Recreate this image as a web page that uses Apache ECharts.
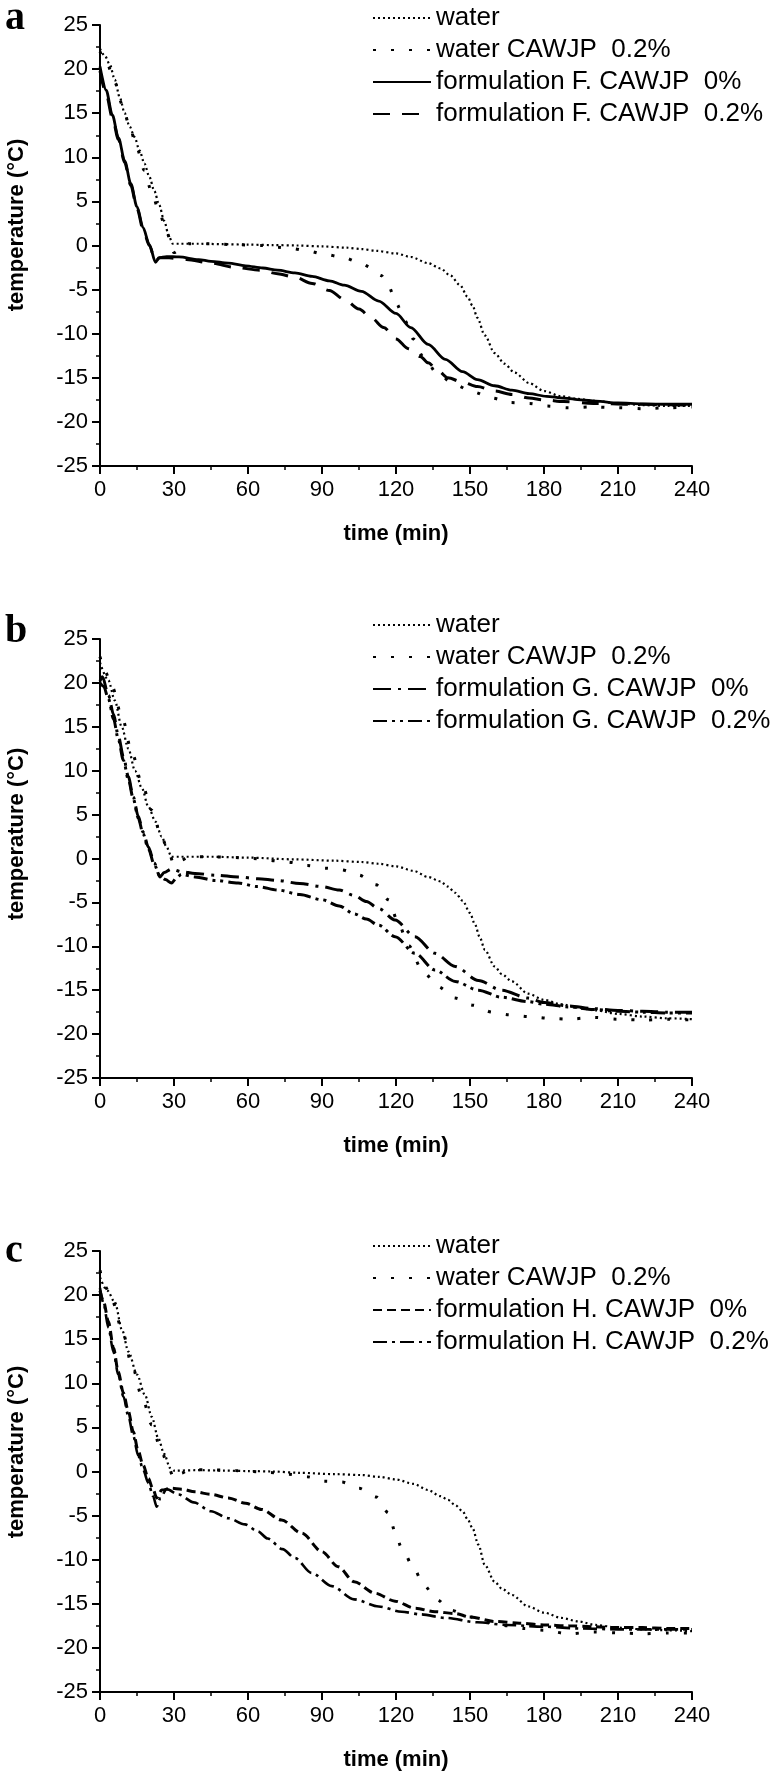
<!DOCTYPE html>
<html><head><meta charset="utf-8">
<script src="https://cdn.jsdelivr.net/npm/echarts@6/dist/echarts.min.js"></script>
<style>html,body{margin:0;padding:0;background:#fff}#c{width:774px;height:1772px}</style>
</head><body><div id="c"></div>
<script>
// ---------- data: [time (min), temperature (°C)] ----------
const xTicks = [0, 30, 60, 90, 120, 150, 180, 210, 240];
const yTicks = [-25, -20, -15, -10, -5, 0, 5, 10, 15, 20, 25];

// panel a
const waterA = [[0,22.3],[2,21.5],[4,20.5],[6,18.8],[8,16.8],[10,15],[12,13.5],[14,12.3],[16,10.8],[18,9.3],[20,7.8],[22,6.2],[24,4.6],[26,2.8],[28,1.0],[29.5,0.2],[32,0.2],[40,0.2],[50,0.15],[60,0.1],[70,0.05],[80,0],[90,-0.1],[100,-0.25],[106,-0.4],[112,-0.6],[120,-0.9],[126,-1.3],[133,-2.0],[138,-2.6],[142,-3.4],[146,-4.5],[149,-5.8],[151,-6.8],[153,-8.2],[156,-10.2],[160,-12.2],[164,-13.4],[168,-14.4],[174,-15.6],[180,-16.5],[187,-17.1],[194,-17.4],[200,-17.6],[210,-17.9],[220,-18.1],[230,-18.2],[240,-18.2]];
const waterCawjpA = [[0,22],[3,20.5],[6,18.5],[9,16],[12,13.5],[15,11],[18,8.5],[21,6],[24,3.8],[27,1.5],[30,-0.8],[33,-0.3],[36,0.2],[45,0.2],[55,0.1],[65,0],[72,-0.2],[78,-0.35],[84,-0.6],[91,-1.0],[98,-1.3],[105,-1.9],[110,-2.5],[114,-3.4],[117,-4.6],[120,-6.5],[123.5,-8.5],[127,-10.6],[131,-12.6],[137,-14.6],[144,-15.8],[151,-16.6],[159,-17.3],[166,-17.8],[174,-17.9],[181,-18.2],[190,-18.4],[200,-18.3],[210,-18.4],[220,-18.5],[230,-18.4],[240,-18.3]];
const formF0 = [[0,20.3],[2.5,17.6],[5,14.8],[7.5,12.2],[10,9.6],[12.5,7],[15,4.4],[17.5,2],[20,0.1],[22.5,-1.9],[24,-1.4],[27,-1.25],[32,-1.3],[40,-1.6],[45,-1.8],[52,-2.0],[59,-2.3],[66,-2.55],[72,-2.8],[79,-3.1],[86,-3.5],[93,-4.0],[99,-4.5],[106,-5.2],[113,-6.3],[120,-7.7],[126,-9.3],[133,-11.2],[140,-12.9],[147,-14.3],[153,-15.2],[160,-15.9],[167,-16.4],[174,-16.8],[181,-17.1],[188,-17.3],[195,-17.5],[201,-17.65],[210,-17.85],[220,-17.95],[230,-18.0],[240,-18.0]];
const formF02 = [[0,19.8],[2.5,17.2],[5,14.5],[7.5,12],[10,9.4],[12.5,6.8],[15,4.2],[17.5,1.8],[20,0],[22.5,-1.8],[24,-1.4],[28,-1.4],[35,-1.6],[45,-2.0],[55,-2.5],[65,-2.8],[72,-3.2],[79,-3.6],[86,-4.3],[93,-5.1],[99,-6.1],[105,-7.2],[110,-8.2],[115,-9.3],[120,-10.6],[125,-11.7],[130,-12.6],[133,-13.3],[137,-14.2],[141,-15.0],[147,-15.5],[153,-16.0],[160,-16.5],[167,-16.9],[174,-17.3],[180,-17.5],[188,-17.7],[200,-17.9],[215,-18.0],[240,-18.1]];

// panel b
const waterB = [[0,22.3],[3.4,20.3],[6,18],[8.8,15],[11.5,12.5],[14.2,10],[17,8],[19.6,5.9],[22.5,4.2],[25,2.5],[27,1.3],[29,0.2],[32,0.2],[45,0.2],[60,0.1],[79,-0.1],[95,-0.25],[106,-0.4],[113,-0.6],[120,-0.9],[127,-1.4],[133,-2.1],[138,-2.6],[141,-3.2],[144,-3.9],[147,-4.8],[150,-6.2],[152,-7.5],[154,-9],[156,-10.4],[160,-12.3],[163,-13.2],[167,-14],[173.6,-15.4],[180,-16.1],[187,-16.6],[194,-17.0],[201,-17.3],[210,-17.7],[220,-18.0],[230,-18.2],[240,-18.3]];
const waterCawjpB = [[0,23.0],[2,21.3],[5,19.5],[9,16],[13,12],[17,8.5],[21,5.5],[25,2.4],[28,0.6],[30,-0.7],[33,-0.2],[36,0.2],[45,0.2],[55,0.1],[62,0],[68,-0.2],[76,-0.4],[84,-0.8],[91,-1.1],[98,-1.3],[105,-1.9],[112,-3.0],[117,-4.7],[121,-7.4],[125,-9.9],[131,-12.9],[137,-14.6],[144,-15.9],[151,-16.7],[159,-17.5],[166,-17.8],[174,-18.0],[182,-18.2],[190,-18.3],[200,-18.1],[210,-18.3],[220,-18.4],[230,-18.3],[240,-18.4]];
const formG0 = [[0,20.2],[1,20.7],[3.4,18.6],[5.5,16.4],[7.4,14],[9.5,11.6],[11.5,9.3],[13.5,7],[15.5,4.8],[17.5,3],[19.6,1.3],[22,-0.5],[24.3,-2.1],[26,-1.6],[29,-1.2],[33,-1.5],[38.5,-1.7],[47,-1.9],[56,-2.1],[64,-2.3],[72,-2.5],[81,-2.85],[90,-3.2],[97,-3.6],[103,-4.2],[108,-4.9],[113,-5.7],[119.6,-7.0],[127.7,-8.9],[135.8,-10.8],[144,-12.3],[153.4,-13.9],[162.8,-15.0],[173.6,-15.9],[180,-16.4],[190,-16.8],[200,-17.1],[210,-17.3],[220,-17.4],[230,-17.5],[240,-17.5]];
const formG02 = [[0,20.0],[1.5,19.6],[3.4,18.2],[5.5,15.9],[7.4,13.6],[9.5,11.2],[11.5,9.0],[13.5,6.8],[15.5,4.6],[17.5,2.8],[19.6,1.1],[22,-0.7],[24.3,-2.0],[26.5,-2.4],[29,-2.8],[31,-2.2],[33,-1.8],[38.5,-2.1],[47,-2.5],[56,-2.8],[64,-3.2],[72.3,-3.6],[81,-4.1],[90,-4.7],[97,-5.4],[103,-6.3],[108,-6.9],[113,-7.6],[119.6,-8.9],[127.7,-10.8],[135.8,-12.7],[144,-14.0],[153.4,-15.0],[162.8,-15.8],[173.6,-16.3],[180,-16.6],[190,-16.9],[200,-17.2],[210,-17.4],[220,-17.5],[230,-17.6],[240,-17.6]];

// panel c
const waterC = [[0,22],[3,20.5],[6,19.2],[9,16],[11.5,13.6],[15,11],[18.2,8.7],[21,6.2],[23.6,3.8],[26,2],[28.4,0.4],[30,0.1],[40,0.15],[50,0.1],[60,0.05],[70,0],[81,-0.15],[95,-0.3],[106,-0.4],[113,-0.6],[120,-0.9],[127,-1.4],[133,-2.1],[138,-2.8],[141,-3.2],[144,-3.8],[147,-4.5],[149,-5.4],[151,-6.4],[153.4,-8.3],[156,-10.6],[160,-12.5],[163,-13.3],[167,-14],[173.6,-15.3],[180,-16],[187,-16.6],[194,-17.0],[201,-17.4],[210,-17.7],[220,-17.9],[230,-18.0],[240,-18.1]];
const waterCawjpC = [[0,22.8],[2,21],[5,19.3],[9,16],[13,12],[17,8.5],[21,5.3],[25,2.2],[28,0.3],[30,-0.8],[33,-0.2],[36,0.2],[45,0.2],[55,0.1],[68,-0.1],[76,-0.3],[84,-0.6],[91,-1.1],[98,-1.2],[105,-1.9],[112,-2.9],[117,-4.7],[119.6,-6.8],[122.3,-8.7],[127,-10.8],[131,-12.8],[136.5,-14.5],[142,-15.7],[150,-16.5],[158,-17.1],[165,-17.5],[172,-17.8],[180,-18],[190,-18.4],[200,-18.2],[210,-18.3],[220,-18.4],[230,-18.3],[240,-18.3]];
const formH0 = [[0,20.5],[1.5,19.2],[3.4,17],[5.5,14],[7.4,11.3],[9.5,8.9],[11.5,6.8],[13.5,4.5],[15.5,2.3],[17.5,0.7],[19.6,-0.8],[21.5,-2],[23,-3.0],[25,-2.1],[29,-1.9],[33,-2.0],[38.5,-2.3],[45,-2.6],[52,-3.0],[59,-3.6],[65.5,-4.3],[73.6,-5.5],[81.8,-7.0],[90,-9.1],[96.6,-10.8],[103,-12.5],[111.5,-13.8],[119.6,-14.7],[127.7,-15.5],[135.8,-15.9],[144,-16.1],[150,-16.5],[160,-17.0],[170,-17.2],[180,-17.4],[190,-17.5],[200,-17.6],[210,-17.7],[220,-17.7],[230,-17.8],[240,-17.8]];
const formH02 = [[0,20.8],[1.5,19],[3.4,16.3],[5.5,13.5],[7.4,11],[9.5,8.5],[11.5,6.3],[13.5,4.0],[15.5,1.8],[17.5,0.2],[19.6,-1.3],[21.5,-2.8],[23,-4.0],[24.5,-3.0],[27,-2.0],[31.8,-2.6],[38,-3.5],[45,-4.5],[52,-5.3],[58.8,-6.0],[64,-6.8],[68,-7.6],[74,-8.8],[79,-9.8],[85.8,-11.5],[94,-13.0],[103,-14.5],[113,-15.3],[122.3,-15.9],[130,-16.2],[140,-16.6],[153,-17.1],[165,-17.4],[180,-17.6],[195,-17.8],[210,-17.9],[225,-17.9],[240,-17.9]];

const namesA = ['water', 'water CAWJP  0.2%', 'formulation F. CAWJP  0%', 'formulation F. CAWJP  0.2%'];
const namesB = ['water', 'water CAWJP  0.2%', 'formulation G. CAWJP  0%', 'formulation G. CAWJP  0.2%'];
const namesC = ['water', 'water CAWJP  0.2%', 'formulation H. CAWJP  0%', 'formulation H. CAWJP  0.2%'];
const panelLetters = ['a', 'b', 'c'];
const xTitle = 'time (min)';
const yTitle = 'temperature (°C)';

// ---------- styles / layout ----------
const FONT = "'Liberation Sans', Arial, sans-serif";
const sWater = {type: [2, 3], width: 2.2};
const sWaterC = {type: [3, 15], width: 3};
const styles = {
  F0: {type: 'solid', width: 2.8},
  F02: {type: [17, 12], width: 3},
  G0: {type: [18, 7, 3, 7], width: 3},
  G02: {type: [14, 5, 3, 5, 3, 5], width: 3},
  H0: {type: [9, 5], width: 3},
  H02: {type: [14, 5, 3, 5], width: 2.6}
};
const panels = [
  {top: 25, height: 441, legendTop: 0, letterY: 13, yTitleY: 225, names: namesA,
   data: [waterA, waterCawjpA, formF0, formF02], st: [sWater, sWaterC, styles.F0, styles.F02]},
  {top: 639, height: 439, legendTop: 607, letterY: 626, yTitleY: 834, names: namesB,
   data: [waterB, waterCawjpB, formG0, formG02], st: [sWater, sWaterC, styles.G0, styles.G02]},
  {top: 1251, height: 441, legendTop: 1228, letterY: 1246, yTitleY: 1452, names: namesC,
   data: [waterC, waterCawjpC, formH0, formH02], st: [sWater, sWaterC, styles.H0, styles.H02]}
];

const grid = [], xAxis = [], yAxis = [], series = [], legend = [], graphic = [];
panels.forEach((p, i) => {
  grid.push({left: 100, top: p.top, width: 592, height: p.height});
  xAxis.push({
    gridIndex: i, type: 'value', min: xTicks[0], max: xTicks[xTicks.length - 1], interval: 30,
    axisLine: {onZero: false, lineStyle: {color: '#000', width: 2}},
    axisTick: {length: 8, lineStyle: {color: '#000', width: 2}},
    minorTick: {show: true, splitNumber: 2, length: 4, lineStyle: {color: '#000', width: 1.5}},
    splitLine: {show: false},
    axisLabel: {color: '#000', fontFamily: FONT, fontSize: 22, margin: 13},
    name: xTitle, nameLocation: 'middle', nameGap: 57,
    nameTextStyle: {fontFamily: FONT, fontWeight: 'bold', fontSize: 22, color: '#000'}
  });
  yAxis.push({
    gridIndex: i, type: 'value', min: yTicks[0], max: yTicks[yTicks.length - 1], interval: 5,
    axisLine: {onZero: false, lineStyle: {color: '#000', width: 2}},
    axisTick: {length: 8, lineStyle: {color: '#000', width: 2}},
    minorTick: {show: true, splitNumber: 2, length: 4, lineStyle: {color: '#000', width: 1.5}},
    splitLine: {show: false},
    axisLabel: {color: '#000', fontFamily: FONT, fontSize: 22, margin: 12}
  });
  p.names.forEach((n, k) => {
    series.push({
      type: 'line', name: n, xAxisIndex: i, yAxisIndex: i, data: p.data[k],
      showSymbol: false, symbol: 'none', smooth: 0.3, smoothMonotone: 'x',
      lineStyle: Object.assign({color: '#000', cap: 'butt'}, p.st[k]),
      itemStyle: {color: '#000'}, silent: true, animation: false
    });
  });
  legend.push({
    orient: 'vertical', left: 367, top: p.legendTop, itemWidth: 58, itemHeight: 14, itemGap: 6,
    data: p.names, selectedMode: false,
    itemStyle: {opacity: 0, borderWidth: 0},
    textStyle: {fontFamily: FONT, fontSize: 26, lineHeight: 26, color: '#000'}
  });
  graphic.push({
    type: 'text', left: 5, top: p.letterY - 14,
    style: {text: panelLetters[i], font: "bold 40px 'Liberation Serif', 'Times New Roman', serif", fill: '#000'}
  });
  graphic.push({
    type: 'text', x: 17, y: p.yTitleY, rotation: Math.PI / 2,
    style: {text: yTitle, font: "bold 22px 'Liberation Sans', Arial, sans-serif", fill: '#000',
            align: 'center', verticalAlign: 'middle'}
  });
});

const chart = echarts.init(document.getElementById('c'), null, {renderer: 'canvas'});
chart.setOption({
  animation: false, backgroundColor: '#fff',
  grid, xAxis, yAxis, series, legend, graphic
});
</script></body></html>
